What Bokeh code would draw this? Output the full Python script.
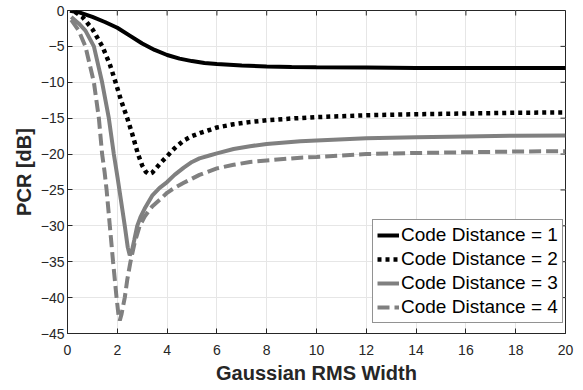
from bokeh.plotting import figure
from bokeh.models import Legend, LegendItem, Range1d, FixedTicker
from bokeh.embed import file_html
from bokeh.resources import INLINE

x1 = [0.1, 0.5, 1.0, 1.5, 2.0, 2.5, 3.0, 3.5, 4.0, 4.5, 5.0, 5.5, 6.0, 7.0, 8.0, 9.0, 10, 12, 14, 16, 18, 20]
y1 = [-0.05, -0.3, -0.9, -1.6, -2.4, -3.5, -4.6, -5.5, -6.2, -6.7, -7.05, -7.3, -7.45, -7.65, -7.8, -7.87, -7.9, -7.95, -8.0, -8.0, -8.0, -8.0]

x2 = [0.3, 0.6, 1.0, 1.4, 1.7, 1.93, 2.15, 2.4, 2.6, 2.83, 3.0, 3.15, 3.27, 3.4, 3.55, 3.75, 4.0, 4.3, 4.67, 5.0, 5.34, 5.7, 6.0, 6.67, 7.3, 8.0, 9.0, 10, 12, 14, 16, 18, 20]
y2 = [-0.2, -0.9, -2.6, -5.0, -7.5, -10.0, -12.5, -15.0, -17.2, -20.0, -21.6, -22.5, -22.8, -22.6, -22.0, -21.2, -20.3, -19.2, -18.1, -17.5, -17.05, -16.65, -16.3, -15.85, -15.55, -15.3, -15.05, -14.85, -14.6, -14.45, -14.35, -14.25, -14.2]

x3 = [0.15, 0.45, 0.72, 1.06, 1.39, 1.66, 1.86, 2.02, 2.15, 2.3, 2.42, 2.5, 2.58, 2.68, 2.8, 2.93, 3.1, 3.4, 3.7, 4.0, 4.3, 4.67, 5.0, 5.3, 5.7, 6.0, 6.67, 7.33, 8.0, 9.35, 10, 12, 14, 16, 18, 20]
y3 = [-0.9, -1.8, -2.8, -5.0, -10.0, -15.0, -20.0, -23.5, -26.5, -30.0, -33.0, -34.1, -33.6, -32.0, -30.0, -28.8, -27.6, -25.8, -24.7, -23.9, -22.9, -21.9, -21.1, -20.6, -20.2, -19.9, -19.3, -18.9, -18.6, -18.2, -18.1, -17.8, -17.65, -17.55, -17.45, -17.4]

x4 = [0.15, 0.45, 0.72, 1.06, 1.26, 1.39, 1.49, 1.57, 1.7, 1.83, 1.97, 2.05, 2.1, 2.17, 2.3, 2.4, 2.53, 2.7, 2.9, 3.1, 3.4, 3.73, 4.0, 4.3, 4.67, 5.3, 6.0, 6.67, 7.33, 8.0, 9.35, 10, 12, 14, 16, 18, 20]
y4 = [-1.3, -2.8, -5.0, -10.0, -15.0, -20.0, -22.5, -25.0, -30.0, -35.0, -40.0, -42.5, -43.2, -42.3, -40.0, -37.5, -35.0, -32.3, -30.0, -28.7, -27.3, -26.3, -25.4, -24.7, -24.0, -22.9, -22.0, -21.5, -21.1, -20.9, -20.5, -20.4, -20.0, -19.85, -19.75, -19.65, -19.6]

labels = ["Code Distance = 1", "Code Distance = 2", "Code Distance = 3", "Code Distance = 4"]
x_ticks = [0, 2, 4, 6, 8, 10, 12, 14, 16, 18, 20]
y_ticks = [0, -5, -10, -15, -20, -25, -30, -35, -40, -45]

FONT = "Liberation Sans"
AX = "#262626"
FRAME_W, FRAME_H = 498, 323

p = figure(width=583, height=390, x_range=Range1d(0, 20), y_range=Range1d(-45, 0),
           output_backend="svg", toolbar_location=None,
           min_border_left=67, min_border_right=18, min_border_top=10, min_border_bottom=57)
p.background_fill_color = "white"
p.border_fill_color = "white"
p.outline_line_color = AX
p.outline_line_width = 1

for ax in (p.xaxis[0], p.yaxis[0]):
    ax.major_tick_in = 5
    ax.major_tick_out = 0
    ax.minor_tick_in = 0
    ax.minor_tick_out = 0
    ax.axis_line_color = AX
    ax.major_tick_line_color = AX
    ax.major_label_text_font = FONT
    ax.major_label_text_font_size = "14px"
    ax.major_label_text_color = AX
    ax.axis_label_text_font = FONT
    ax.axis_label_text_font_size = "20px"
    ax.axis_label_text_font_style = "bold"
    ax.axis_label_text_color = AX

p.xaxis[0].ticker = FixedTicker(ticks=x_ticks)
p.yaxis[0].ticker = FixedTicker(ticks=y_ticks)
p.xaxis[0].axis_label = "Gaussian RMS Width"
p.yaxis[0].axis_label = "PCR [dB]"
p.xaxis[0].major_label_standoff = 11
p.yaxis[0].major_label_standoff = 3
p.xaxis[0].axis_label_standoff = 4
p.yaxis[0].axis_label_standoff = 3

# inward ticks on the top and right edges of the box
p.extra_y_ranges = {"unity": Range1d(0, 1)}
p.extra_x_ranges = {"unitx": Range1d(0, 1)}
p.segment(x0=x_ticks, y0=[1.0] * len(x_ticks), x1=x_ticks, y1=[1 - 5 / FRAME_H] * len(x_ticks),
          y_range_name="unity", line_color=AX, line_width=1)
p.segment(x0=[1.0] * len(y_ticks), y0=y_ticks, x1=[1 - 5 / FRAME_W] * len(y_ticks), y1=y_ticks,
          x_range_name="unitx", line_color=AX, line_width=1)

p.xgrid.ticker = FixedTicker(ticks=x_ticks)
p.ygrid.ticker = FixedTicker(ticks=y_ticks)
p.grid.grid_line_color = "#e6e6e6"
p.grid.grid_line_width = 1

GRAY = "#808080"
r1 = p.line(x1, y1, line_color="black", line_width=4)
r2 = p.line(x2, y2, line_color="black", line_width=4.5, line_dash="4 4")
r3 = p.line(x3, y3, line_color=GRAY, line_width=4)
r4 = p.line(x4, y4, line_color=GRAY, line_width=4, line_dash="12 5")

legend = Legend(items=[LegendItem(label=labels[0], renderers=[r1]),
                       LegendItem(label=labels[1], renderers=[r2]),
                       LegendItem(label=labels[2], renderers=[r3]),
                       LegendItem(label=labels[3], renderers=[r4])],
                location=(305, 10))
legend.label_text_font = FONT
legend.label_text_font_size = "19px"
legend.label_text_color = "black"
legend.glyph_width = 22
legend.glyph_height = 20
legend.label_height = 20
legend.label_standoff = 2
legend.spacing = 2
legend.padding = 4
legend.margin = 0
legend.border_line_color = AX
legend.border_line_width = 1
legend.background_fill_color = "white"
legend.background_fill_alpha = 1
p.add_layout(legend, "center")

open("out.html", "w").write(file_html(p, INLINE))
